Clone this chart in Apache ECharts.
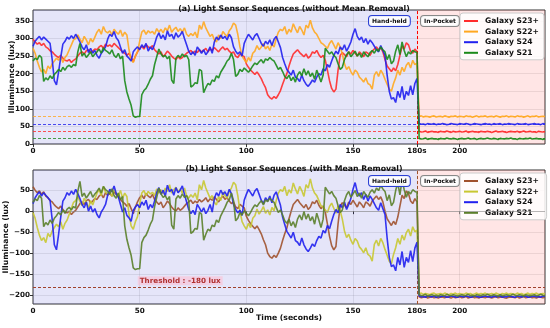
<!DOCTYPE html>
<html><head><meta charset="utf-8">
<script src="https://cdn.jsdelivr.net/npm/echarts@6/dist/echarts.min.js"></script>
<style>html,body{margin:0;padding:0;background:#fff}#c{width:550px;height:328px}</style>
</head><body><div id="c"></div>
<script>
// ---------- DATA ----------
const seriesNames = ['Galaxy S23+', 'Galaxy S22+', 'Galaxy S24', 'Galaxy S21'];
const xTickValues = [0, 50, 100, 150, 180, 200];
const yTicksA = [0, 50, 100, 150, 200, 250, 300, 350];
const yTicksB = [-200, -150, -100, -50, 0, 50];
const pocketStart = 180;
const thresholdValue = -180;
const pocketMeansA = [35, 78, 57, 15];

// Panel (a) hand-held samples, t = 0..180 s (1 s step)
const redA = [298,290,284,288,280,286,276,272,265,262, 255,250,246,252,244,238,236,240,232,238, 242,250,258,262,256,265,268,260,264,270, 268,276,280,272,284,278,282,276,286,280, 274,268,262,258,252,258,246,234,250,262, 272,278,270,282,276,272,280,268,262,256, 262,248,255,264,258,250,244,240,248,242, 246,252,258,262,266,258,264,260,268,262, 266,272,262,270,266,274,268,262,270,276, 268,272,264,258,262,250,246,256,252,248, 228,218,210,204,198,205,196,186,172,160, 140,132,128,135,130,140,152,170,186,200, 222,240,256,262,268,260,254,248,256,244, 250,262,258,266,254,246,252,238,210,180, 158,148,156,210,252,260,254,248,262,256, 266,258,250,262,256,248,262,258,252,264, 270,276,268,274,262,240,222,214,206,216, 208,226,252,278,270,288,282,264,258,270, 262];
const orangeA = [272,258,236,218,205,212,200,222,214,228, 236,244,238,250,232,246,254,268,282,296, 300,310,298,288,306,296,282,300,290,304, 318,326,312,334,320,316,322,310,326,318, 312,324,306,318,310,268,240,232,250,262, 292,318,324,312,322,316,320,312,328,318, 326,316,330,322,338,318,326,332,320,328, 318,330,312,306,314,308,318,302,338,326, 348,330,318,306,312,296,290,310,300,320, 312,306,322,330,344,338,312,276,250,240, 232,246,236,258,264,280,268,276,286,270, 278,266,284,276,300,318,326,322,334,312, 326,318,342,328,316,334,324,310,338,330, 352,330,318,312,300,288,284,278,272,286, 294,282,270,288,276,256,228,212,220,206, 196,210,204,190,184,176,188,172,168,156, 196,206,192,210,200,184,170,156,150,172, 188,210,196,218,206,224,232,216,238,226, 230];
const blueA = [278,292,300,306,296,304,298,292,286,240, 180,168,205,246,284,292,304,298,308,300, 312,302,290,276,268,282,260,272,258,266, 252,244,258,266,276,298,312,306,320,302, 294,276,258,268,250,244,236,262,270,276, 268,282,274,286,264,276,268,284,304,316, 300,310,296,322,306,312,298,316,304,310, 320,300,282,264,254,262,252,276,268,258, 268,254,262,276,258,290,304,296,310,300, 306,296,312,302,276,264,256,262,250,286, 300,312,304,296,308,314,300,286,278,292, 284,296,280,298,306,290,274,246,228,212, 204,196,210,190,186,178,196,180,170,164, 172,182,176,190,200,196,214,208,226,218, 236,252,264,256,276,268,282,264,276,290, 312,328,306,296,304,288,300,284,296,288, 278,268,262,280,266,252,196,150,128,132, 118,150,132,164,126,150,138,166,140,172, 186];
const greenA = [236,244,240,252,246,178,188,182,194,186, 198,204,212,206,218,210,220,224,218,226, 222,262,286,250,258,246,254,262,248,256, 262,270,258,274,266,262,256,268,252,246, 258,242,250,180,148,128,110,80,76,78, 78,140,152,158,170,184,194,226,248,270, 256,248,252,242,250,182,172,244,252,246, 256,248,252,240,162,166,174,172,212,208, 146,160,172,168,182,178,194,188,204,214, 224,236,242,258,240,192,198,212,206,216, 210,204,212,222,230,226,234,240,230,242, 238,246,240,236,224,212,218,206,192,186, 196,180,190,176,196,206,194,214,196,208, 192,202,184,210,194,176,196,272,264,256, 262,252,246,228,212,218,240,254,262,248, 256,264,250,258,246,262,254,248,260,266, 258,270,264,276,268,262,240,254,228,236, 264,282,254,290,266,248,262,256,266,262, 260];
// Panel (a) in-pocket samples, t = 181..240 s
const redPocketA = [36,34,35,37,33,35,36,34,35,33,36,35,34,37,35,33,36,34,35,36,34,35,37,33,35,36,34,35,33,36,35,34,36,35,33,35,37,34,35,36,34,33,35,36,35,34,36,33,35,37,34,35,36,34,35,33,36,35,34,35];
const orangePocketA = [78,80,77,79,78,76,79,80,77,78,79,77,80,78,76,79,78,80,77,79,78,77,80,78,79,76,78,80,77,79,78,80,77,78,79,77,80,78,76,79,78,80,77,79,78,77,80,78,79,76,78,80,77,79,78,80,77,78,79,78];
const bluePocketA = [58,56,57,55,58,57,56,58,55,57,56,58,57,55,56,58,57,56,55,58,57,56,58,57,55,56,58,57,56,55,57,58,56,57,55,58,56,57,58,55,57,56,58,57,56,55,58,57,56,57,58,55,56,57,58,56,57,55,58,57];
const greenPocketA = [16,14,15,17,13,15,16,14,15,13,16,15,14,17,15,14,16,15,13,15,16,14,15,17,14,15,16,13,15,16,14,15,17,15,14,16,15,13,16,15,14,16,15,17,14,15,13,16,15,14,16,15,17,14,15,16,14,15,13,15];

// Panel (b) hand-held samples (mean removed), t = 0..180 s
const redB = [58,50,44,48,40,46,36,32,25,22, 15,10,6,12,4,-2,-4,0,-8,-2, 2,10,18,22,16,25,28,20,24,30, 28,36,40,32,44,38,42,36,46,40, 34,28,22,18,12,18,6,-6,10,22, 32,38,30,42,36,32,40,28,22,16, 22,8,15,24,18,10,4,0,8,2, 6,12,18,22,26,18,24,20,28,22, 26,32,22,30,26,34,28,22,30,36, 28,32,24,18,22,10,6,16,12,8, -12,-22,-30,-36,-42,-35,-44,-54,-68,-80, -100,-108,-112,-105,-110,-100,-88,-70,-54,-40, -18,0,16,22,28,20,14,8,16,4, 10,22,18,26,14,6,12,-2,-30,-60, -82,-92,-84,-30,12,20,14,8,22,16, 26,18,10,22,16,8,22,18,12,24, 30,36,28,34,22,0,-18,-26,-34,-24, -32,-14,12,38,30,48,42,24,18,30, 22];
const orangeB = [-3,-17,-39,-57,-70,-63,-75,-53,-61,-47, -39,-31,-37,-25,-43,-29,-21,-7,7,21, 25,35,23,13,31,21,7,25,15,29, 43,51,37,59,45,41,47,35,51,43, 37,49,31,43,35,-7,-35,-43,-25,-13, 17,43,49,37,47,41,45,37,53,43, 51,41,55,47,63,43,51,57,45,53, 43,55,37,31,39,33,43,27,63,51, 73,55,43,31,37,21,15,35,25,45, 37,31,47,55,69,63,37,1,-25,-35, -43,-29,-39,-17,-11,5,-7,1,11,-5, 3,-9,9,1,25,43,51,47,59,37, 51,43,67,53,41,59,49,35,63,55, 77,55,43,37,25,13,9,3,-3,11, 19,7,-5,13,1,-19,-47,-63,-55,-69, -79,-65,-71,-85,-91,-99,-87,-103,-107,-119, -79,-69,-83,-65,-75,-91,-105,-119,-125,-103, -87,-65,-79,-57,-69,-51,-43,-59,-37,-49, -45];
const blueB = [18,32,40,46,36,44,38,32,26,-20, -80,-92,-55,-14,24,32,44,38,48,40, 52,42,30,16,8,22,0,12,-2,6, -8,-16,-2,6,16,38,52,46,60,42, 34,16,-2,8,-10,-16,-24,2,10,16, 8,22,14,26,4,16,8,24,44,56, 40,50,36,62,46,52,38,56,44,50, 60,40,22,4,-6,2,-8,16,8,-2, 8,-6,2,16,-2,30,44,36,50,40, 46,36,52,42,16,4,-4,2,-10,26, 40,52,44,36,48,54,40,26,18,32, 24,36,20,38,46,30,14,-14,-32,-48, -56,-64,-50,-70,-74,-82,-64,-80,-90,-96, -88,-78,-84,-70,-60,-64,-46,-52,-34,-42, -24,-8,4,-4,16,8,22,4,16,30, 52,68,46,36,44,28,40,24,36,28, 18,8,2,20,6,-8,-64,-110,-132,-128, -142,-110,-128,-96,-134,-110,-122,-94,-120,-88, -74];
const greenB = [21,29,25,37,31,-37,-27,-33,-21,-29, -17,-11,-3,-9,3,-5,5,9,3,11, 7,47,71,35,43,31,39,47,33,41, 47,55,43,59,51,47,41,53,37,31, 43,27,35,-35,-67,-87,-105,-135,-139,-137, -137,-75,-63,-57,-45,-31,-21,11,33,55, 41,33,37,27,35,-33,-43,29,37,31, 41,33,37,25,-53,-49,-41,-43,-3,-7, -69,-55,-43,-47,-33,-37,-21,-27,-11,-1, 9,21,27,43,25,-23,-17,-3,-9,1, -5,-11,-3,7,15,11,19,25,15,27, 23,31,25,21,9,-3,3,-9,-23,-29, -19,-35,-25,-39,-19,-9,-21,-1,-19,-7, -23,-13,-31,-5,-21,-39,-19,57,49,41, 47,37,31,13,-3,3,25,39,47,33, 41,49,35,43,31,47,39,33,45,51, 43,55,49,61,53,47,25,39,13,21, 49,67,39,75,51,33,47,41,51,47, 45];
// Panel (b) in-pocket samples, t = 181..240 s
const redPocketB = [-204,-206,-205,-203,-207,-205,-204,-206,-205,-207,-204,-205,-206,-203,-205,-207,-204,-206,-205,-204,-206,-205,-203,-207,-205,-204,-206,-205,-207,-204,-205,-206,-204,-205,-207,-205,-203,-206,-205,-204,-206,-207,-205,-204,-205,-206,-204,-207,-205,-203,-206,-205,-204,-206,-205,-207,-204,-205,-206,-205];
const orangePocketB = [-197,-195,-198,-196,-197,-199,-196,-195,-198,-197,-196,-198,-195,-197,-199,-196,-197,-195,-198,-196,-197,-198,-195,-197,-196,-199,-197,-195,-198,-196,-197,-195,-198,-197,-196,-198,-195,-197,-199,-196,-197,-195,-198,-196,-197,-198,-195,-197,-196,-199,-197,-195,-198,-196,-197,-195,-198,-197,-196,-197];
const bluePocketB = [-202,-204,-203,-205,-202,-203,-204,-202,-205,-203,-204,-202,-203,-205,-204,-202,-203,-204,-205,-202,-203,-204,-202,-203,-205,-204,-202,-203,-204,-205,-203,-202,-204,-203,-205,-202,-204,-203,-202,-205,-203,-204,-202,-203,-204,-205,-202,-203,-204,-203,-202,-205,-204,-203,-202,-204,-203,-205,-202,-203];
const greenPocketB = [-199,-201,-200,-198,-202,-200,-199,-201,-200,-202,-199,-200,-201,-198,-200,-201,-199,-200,-202,-200,-199,-201,-200,-198,-201,-200,-202,-199,-200,-201,-199,-200,-198,-200,-201,-199,-200,-202,-199,-201,-200,-199,-201,-200,-198,-200,-201,-199,-200,-202,-199,-200,-201,-200,-199,-201,-200,-198,-200,-201];

// ---------- CHART ----------
const FONT = 'DejaVu Sans';
const colorsA = ['#ff2b2b', '#ffa820', '#2020ee', '#1a8a1a'];
const colorsB = ['#a0522d', '#c8c832', '#2020ee', '#5a7f2a'];

function toPairs(hand, pocket) {
  const out = hand.map((v, i) => [i, v]);
  pocket.forEach((v, j) => out.push([pocketStart + 1 + j, v]));
  return out;
}
const handA = [redA, orangeA, blueA, greenA];
const pocketA = [redPocketA, orangePocketA, bluePocketA, greenPocketA];
const handB = [redB, orangeB, blueB, greenB];
const pocketB = [redPocketB, orangePocketB, bluePocketB, greenPocketB];

const bgAreas = {
  silent: true,
  data: [
    [{ xAxis: 0, itemStyle: { color: 'rgba(0,0,200,0.10)' } }, { xAxis: pocketStart }],
    [{ xAxis: pocketStart, itemStyle: { color: 'rgba(255,0,0,0.10)' } }, { xAxis: 240 }]
  ]
};

const series = [];
for (let k = 0; k < 4; k++) {
  const s = {
    name: seriesNames[k], type: 'line', xAxisIndex: 0, yAxisIndex: 0,
    data: toPairs(handA[k], pocketA[k]), showSymbol: false, symbol: 'none',
    lineStyle: { width: 1.6, color: colorsA[k], opacity: 0.9 }, itemStyle: { color: colorsA[k] },
    z: 3 + k,
    markLine: {
      silent: true, symbol: 'none', label: { show: false },
      lineStyle: { color: colorsA[k], type: [3, 2], width: 1, opacity: 0.8 },
      data: [{ yAxis: pocketMeansA[k] }]
    }
  };
  if (k === 0) {
    s.markArea = bgAreas;
    s.markLine.data.push({ xAxis: pocketStart, lineStyle: { color: '#ff0000', type: [3, 2], width: 1, opacity: 1 } });
  }
  series.push(s);
}
for (let k = 0; k < 4; k++) {
  const s = {
    name: seriesNames[k] + ' ', type: 'line', xAxisIndex: 1, yAxisIndex: 1,
    data: toPairs(handB[k], pocketB[k]), showSymbol: false, symbol: 'none',
    lineStyle: { width: 1.6, color: colorsB[k], opacity: 0.9 }, itemStyle: { color: colorsB[k] },
    z: 3 + k
  };
  if (k === 0) {
    s.markArea = bgAreas;
    s.markLine = {
      silent: true, symbol: 'none', label: { show: false },
      data: [
        { xAxis: pocketStart, lineStyle: { color: '#a0522d', type: [3, 2], width: 1 } },
        { yAxis: thresholdValue, lineStyle: { color: '#a0422d', type: [3, 2], width: 1 } },
        { yAxis: 0, lineStyle: { color: '#888', type: 'solid', width: 1, opacity: 0.6 } }
      ]
    };
    s.markPoint = {
      silent: true, symbol: 'circle', symbolSize: 1,
      itemStyle: { color: 'rgba(0,0,0,0)' },
      label: {
        show: true, formatter: 'Threshold : -180 lux', position: 'top', distance: 1,
        color: '#b03030', fontFamily: FONT, fontWeight: 'bold', fontSize: 7.2,
        backgroundColor: 'rgba(255,190,210,0.55)', padding: [1, 2]
      },
      data: [{ coord: [69, thresholdValue], value: 0 }]
    };
  }
  series.push(s);
}

function xAxisDef(gi, withName) {
  return {
    type: 'value', gridIndex: gi, min: 0, max: 240, interval: 50,
    axisLine: { show: false },
    axisTick: { show: true, length: 3, lineStyle: { color: '#333' }, customValues: xTickValues },
    axisLabel: { customValues: xTickValues, margin: 4, fontFamily: FONT, fontWeight: 'bold', fontSize: 7.2, color: '#111',
      formatter: v => (v === 180 ? '180s' : String(v)) },
    splitLine: { show: true, lineStyle: { color: 'rgba(150,150,150,0.25)', width: 0.8 } },
    name: withName ? 'Time (seconds)' : '', nameLocation: 'middle', nameGap: 10, nameMoveOverlap: false,
    nameTextStyle: { fontFamily: FONT, fontWeight: 'bold', fontSize: 7.7, color: '#111' }
  };
}
function yAxisDef(gi, extra, ticks, gap) {
  return Object.assign({
    type: 'value', gridIndex: gi,
    axisLine: { show: false },
    axisTick: { show: true, length: 3, lineStyle: { color: '#333' }, customValues: ticks },
    axisLabel: { customValues: ticks, margin: 3, fontFamily: FONT, fontWeight: 'bold', fontSize: 7.2, color: '#111',
      formatter: v => (v < 0 ? '\u2212' + Math.abs(v) : String(v)) },
    splitLine: { show: true, lineStyle: { color: 'rgba(150,150,150,0.25)', width: 0.8 } },
    name: 'Illuminance (lux)', nameLocation: 'middle', nameGap: gap, nameRotate: 90, nameMoveOverlap: false,
    nameTextStyle: { fontFamily: FONT, fontWeight: 'bold', fontSize: 7.7, color: '#111' }
  }, extra);
}

function legendDef(top, names) {
  return {
    orient: 'vertical', left: 460, top: top, itemWidth: 14, itemHeight: 2, itemGap: 2.6,
    icon: 'rect', data: names, padding: [4, 5, 3, 4],
    backgroundColor: 'rgba(255,255,255,0.85)', borderColor: '#cccccc', borderWidth: 1, borderRadius: 3,
    textStyle: { fontFamily: FONT, fontWeight: 'bold', fontSize: 7.6, color: '#111', padding: [0, 0, 0, 2] }
  };
}

function boxText(left, top, text, border) {
  return { type: 'text', left: left, top: top, z: 100, style: {
    text: text, font: 'bold 6px "DejaVu Sans"', fill: '#111',
    backgroundColor: 'rgba(255,255,255,0.9)', borderColor: border, borderWidth: 1, borderRadius: 3, padding: [2, 3, 2, 3]
  } };
}

const chart = echarts.init(document.getElementById('c'), null, { renderer: 'canvas' });
chart.setOption({
  animation: false,
  backgroundColor: '#ffffff',
  title: [
    { text: '(a) Light Sensor Sequences (without Mean Removal)', left: 289, top: 0, textAlign: 'center',
      textStyle: { fontFamily: FONT, fontWeight: 'bold', fontSize: 7.8, color: '#111' } },
    { text: '(b) Light Sensor Sequences (with Mean Removal)', left: 289, top: 160, textAlign: 'center',
      textStyle: { fontFamily: FONT, fontWeight: 'bold', fontSize: 7.8, color: '#111' } }
  ],
  grid: [
    { left: 33, top: 10, width: 512, height: 134, show: true, borderColor: '#333', borderWidth: 1, backgroundColor: 'transparent', containLabel: false, outerBoundsMode: 'none' },
    { left: 33, top: 170, width: 512, height: 134, show: true, borderColor: '#333', borderWidth: 1, backgroundColor: 'transparent', containLabel: false, outerBoundsMode: 'none' }
  ],
  xAxis: [xAxisDef(0, false), xAxisDef(1, true)],
  yAxis: [yAxisDef(0, { min: 0, max: 381, interval: 50 }, yTicksA, 17), yAxisDef(1, { min: -221, max: 98, splitNumber: 6 }, yTicksB, 23)],
  legend: [legendDef(13, seriesNames), legendDef(173, seriesNames.map(n => n + ' '))],
  graphic: [
    boxText(368, 15, 'Hand-held', '#2a3fd4'),
    boxText(420, 15, 'In-Pocket', '#888888'),
    boxText(368, 175, 'Hand-held', '#2a3fd4'),
    boxText(420, 175, 'In-Pocket', '#888888')
  ],
  series: series
});
</script></body></html>
